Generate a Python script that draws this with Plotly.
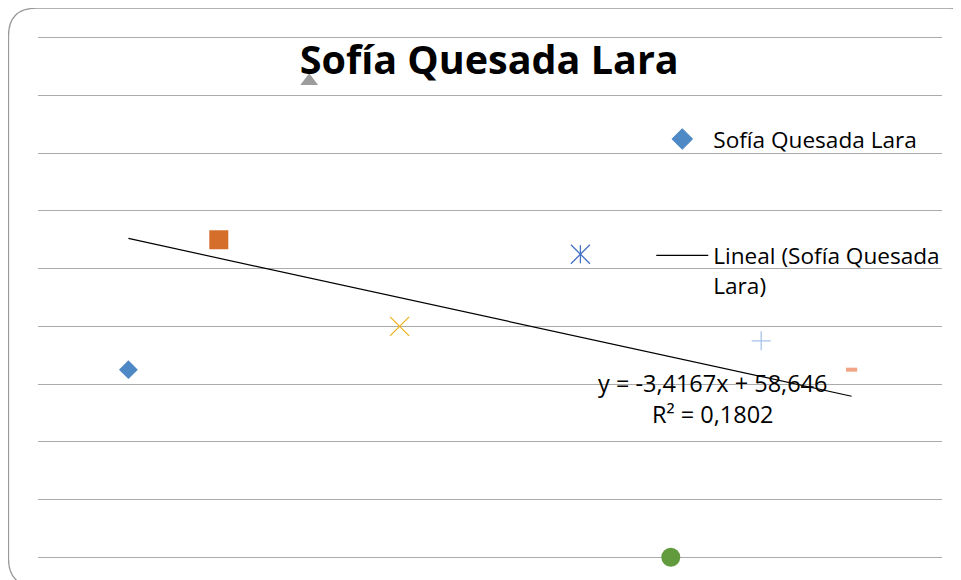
import numpy as np
import plotly.graph_objects as go

# ---- data ----
x_vals = [1, 2, 3, 4, 6, 7, 8, 9]
y_vals = [32.5, 55, 82.5, 40, 52.5, 0, 37.5, 32.5]
series_name = "Sofía Quesada Lara"
trend_name = "Lineal (Sofía Quesada<br>Lara)"
chart_title = "Sofía Quesada Lara"
y_ticks = list(range(0, 100, 10))

# ---- styles (per point, Excel "vary colors by point") ----
symbols = ["diamond", "square", "triangle-up", "x-thin-open", "x-thin-open",
           "circle", "cross-thin-open", "line-ew-open"]
colors = ["#4F89C5", "#D56D2B", "#9D9D9D", "#EDB421", "#4472C4",
          "#619B3D", "#A7C3EA", "#F2A586"]
sizes = [14.5, 19, 15.5, 19, 19, 19, 13.6, 8]
line_widths = [0, 0, 0, 1.3, 1.3, 0, 1.3, 4]

FONT = "Open Sans"

# ---- linear trend ----
xa = np.array(x_vals, dtype=float)
ya = np.array(y_vals, dtype=float)
slope, intercept = np.polyfit(xa, ya, 1)
pred = slope * xa + intercept
r2 = 1 - np.sum((ya - pred) ** 2) / np.sum((ya - ya.mean()) ** 2)
tx = [xa.min(), xa.max()]
ty = [slope * v + intercept for v in tx]


def fmt(v, nd):
    return f"{v:.{nd}f}".replace(".", ",")


eq_text = (f"y = {fmt(slope, 4)}x + {fmt(intercept, 3)}<br>"
           f"R² = {fmt(r2, 4)}")

fig = go.Figure()
fig.add_trace(go.Scatter(
    x=tx, y=ty, mode="lines", name=trend_name,
    line=dict(color="black", width=1.2),
    legendgroup="b", legendrank=2, hoverinfo="skip"))
fig.add_trace(go.Scatter(
    x=x_vals, y=y_vals, mode="markers", name=series_name,
    marker=dict(symbol=symbols, color=colors, size=sizes,
                line=dict(width=line_widths, color=colors), opacity=1),
    cliponaxis=False, legendgroup="a", legendrank=1))
# vertical stroke of the asterisk-style marker (point 5)
fig.add_trace(go.Scatter(
    x=[x_vals[4]], y=[y_vals[4]], mode="markers", showlegend=False,
    marker=dict(symbol="line-ns-open", color=colors[4], size=13,
                line=dict(width=1.3)),
    cliponaxis=False))

# ---- layout ----
# The page body has an 8px margin, so the figure sits at (8, 8) in the window.
OFF = 8
W, H = 953, 572
YPAD = 0.3                      # small range padding so edge gridlines show
UNIT = 519 / 90                 # px per y unit
PADPX = YPAD * UNIT
ML, MR, MT, MB = 30, 19.4, 30 - PADPX, 23 - PADPX
PW, PH = W - ML - MR, H - MT - MB


def px(xp):  # window pixel x -> paper x
    return (xp - OFF - ML) / PW


def py(yp):  # window pixel y -> paper y
    return (H - MB - (yp - OFF)) / PH


# rounded chart border (extends past right/bottom edges)
l, t, r, b, rad = 8.5, 8.5, 978, 586, 28
path = (f"M {px(l)},{py(t + rad)} "
        f"Q {px(l)},{py(t)} {px(l + rad)},{py(t)} "
        f"L {px(r - rad)},{py(t)} "
        f"Q {px(r)},{py(t)} {px(r)},{py(t + rad)} "
        f"L {px(r)},{py(b - rad)} "
        f"Q {px(r)},{py(b)} {px(r - rad)},{py(b)} "
        f"L {px(l + rad)},{py(b)} "
        f"Q {px(l)},{py(b)} {px(l)},{py(b - rad)} Z")

fig.update_layout(
    width=W, height=H,
    margin=dict(l=ML, r=MR, t=MT, b=MB, pad=0),
    paper_bgcolor="white", plot_bgcolor="white",
    font=dict(family=FONT, color="black"),
    title=dict(text=f"<b>{chart_title}</b>", x=px(489), xref="paper",
               xanchor="center", y=1 - (60 - OFF) / H, yanchor="middle",
               font=dict(size=39.5, family=FONT, color="black")),
    xaxis=dict(range=[0, 10], showgrid=False, zeroline=False,
               showticklabels=False, showline=False, ticks=""),
    yaxis=dict(range=[-YPAD, 90 + YPAD], tickvals=y_ticks, showgrid=True,
               gridcolor="#ABABAB", gridwidth=1, zeroline=False,
               showticklabels=False, showline=False, ticks=""),
    showlegend=True,
    legend=dict(x=px(651), y=py(118), xanchor="left", yanchor="top",
                bgcolor="rgba(0,0,0,0)", font=dict(size=22.6, family=FONT),
                tracegroupgap=84, itemwidth=52, valign="top",
                traceorder="grouped"),
    shapes=[dict(type="path", path=path, xref="paper", yref="paper",
                 line=dict(color="#9A9A9A", width=1.3), layer="below")],
    annotations=[dict(text=eq_text, x=px(712), y=py(398), xref="paper",
                      yref="paper", showarrow=False, xanchor="center",
                      yanchor="middle", align="center",
                      font=dict(size=23.5, family=FONT, color="black"))],
)

fig.write_html("out.html")
